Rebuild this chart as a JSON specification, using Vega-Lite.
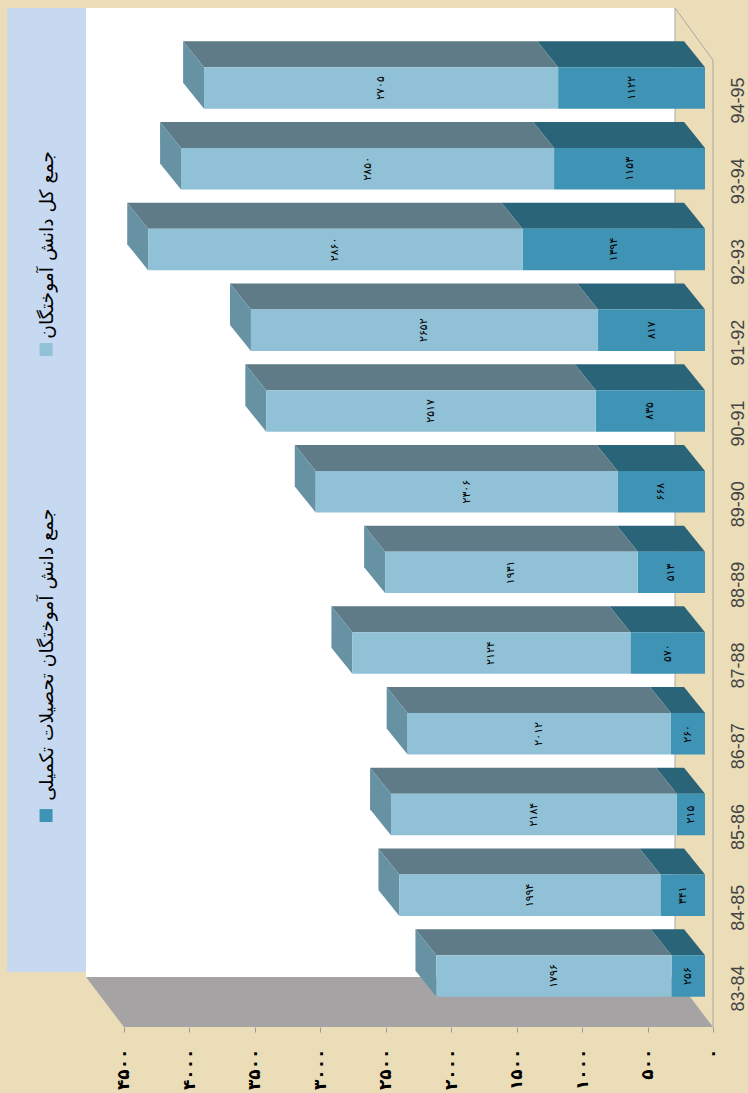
{
"$schema":"https://vega.github.io/schema/vega-lite/v6.json",
"width":748,"height":1093,"padding":0,"autosize":{"type":"none"},"background":"#ECDDB9",
"config":{"view":{"stroke":null},"scale":{"continuousPadding":0}},
"datasets":{"bars":[
{"year":"83-84","pos":0,"series":"جمع دانش آموختگان تحصیلات تکمیلی","value":256,"label":"۲۵۶"},
{"year":"83-84","pos":0,"series":"جمع کل دانش آموختگان","value":1796,"label":"۱۷۹۶"},
{"year":"84-85","pos":1,"series":"جمع دانش آموختگان تحصیلات تکمیلی","value":341,"label":"۳۴۱"},
{"year":"84-85","pos":1,"series":"جمع کل دانش آموختگان","value":1994,"label":"۱۹۹۴"},
{"year":"85-86","pos":2,"series":"جمع دانش آموختگان تحصیلات تکمیلی","value":215,"label":"۲۱۵"},
{"year":"85-86","pos":2,"series":"جمع کل دانش آموختگان","value":2184,"label":"۲۱۸۴"},
{"year":"86-87","pos":3,"series":"جمع دانش آموختگان تحصیلات تکمیلی","value":260,"label":"۲۶۰"},
{"year":"86-87","pos":3,"series":"جمع کل دانش آموختگان","value":2012,"label":"۲۰۱۲"},
{"year":"87-88","pos":4,"series":"جمع دانش آموختگان تحصیلات تکمیلی","value":570,"label":"۵۷۰"},
{"year":"87-88","pos":4,"series":"جمع کل دانش آموختگان","value":2124,"label":"۲۱۲۴"},
{"year":"88-89","pos":5,"series":"جمع دانش آموختگان تحصیلات تکمیلی","value":513,"label":"۵۱۳"},
{"year":"88-89","pos":5,"series":"جمع کل دانش آموختگان","value":1931,"label":"۱۹۳۱"},
{"year":"89-90","pos":6,"series":"جمع دانش آموختگان تحصیلات تکمیلی","value":668,"label":"۶۶۸"},
{"year":"89-90","pos":6,"series":"جمع کل دانش آموختگان","value":2306,"label":"۲۳۰۶"},
{"year":"90-91","pos":7,"series":"جمع دانش آموختگان تحصیلات تکمیلی","value":835,"label":"۸۳۵"},
{"year":"90-91","pos":7,"series":"جمع کل دانش آموختگان","value":2517,"label":"۲۵۱۷"},
{"year":"91-92","pos":8,"series":"جمع دانش آموختگان تحصیلات تکمیلی","value":817,"label":"۸۱۷"},
{"year":"91-92","pos":8,"series":"جمع کل دانش آموختگان","value":2652,"label":"۲۶۵۲"},
{"year":"92-93","pos":9,"series":"جمع دانش آموختگان تحصیلات تکمیلی","value":1394,"label":"۱۳۹۴"},
{"year":"92-93","pos":9,"series":"جمع کل دانش آموختگان","value":2860,"label":"۲۸۶۰"},
{"year":"93-94","pos":10,"series":"جمع دانش آموختگان تحصیلات تکمیلی","value":1153,"label":"۱۱۵۳"},
{"year":"93-94","pos":10,"series":"جمع کل دانش آموختگان","value":2850,"label":"۲۸۵۰"},
{"year":"94-95","pos":11,"series":"جمع دانش آموختگان تحصیلات تکمیلی","value":1122,"label":"۱۱۲۲"},
{"year":"94-95","pos":11,"series":"جمع کل دانش آموختگان","value":2705,"label":"۲۷۰۵"}
]},
"resolve":{"scale":{"color":"independent"},"axis":{"x":"independent","y":"independent"}},
"layer":[
{"data":{"values":[{}]},"mark":{"type":"rect","fill":"#C6D9F0"},"encoding":{
"x":{"datum":5393,"type":"quantitative","scale":{"domain":[-267.4,5446.9],"reverse":true,"nice":false,"zero":false},"axis":null},
"x2":{"datum":4790},
"y":{"datum":11.99,"type":"quantitative","scale":{"domain":[-1.449,12.09],"nice":false,"zero":false},"axis":null},
"y2":{"datum":0.05}}},
{"data":{"values":[{}]},"mark":{"type":"rect","fill":"#FFFFFF"},"encoding":{
"x":{"datum":4790,"type":"quantitative","scale":{"domain":[-267.4,5446.9],"reverse":true,"nice":false,"zero":false},"axis":null},
"x2":{"datum":290},
"y":{"datum":11.99,"type":"quantitative","scale":{"domain":[-1.449,12.09],"nice":false,"zero":false},"axis":null},
"y2":{"datum":-0.012}}},
{"data":{"values":[{"depth":0},{"depth":1}]},
"transform":[{"calculate":"-0.012-0.62*datum.depth","as":"p"},{"calculate":"4790-290*datum.depth","as":"a"},{"calculate":"290-290*datum.depth","as":"b"}],
"mark":{"type":"area","orient":"horizontal","fill":"#A5A3A3"},"encoding":{
"y":{"field":"p","type":"quantitative","scale":{"domain":[-1.449,12.09],"nice":false,"zero":false},"axis":null},
"x":{"field":"a","type":"quantitative","scale":{"domain":[-267.4,5446.9],"reverse":true,"nice":false,"zero":false},"axis":null,"stack":null},
"x2":{"field":"b"}}},
{"data":{"values":[{"x":290,"x2":0,"y":11.99,"y2":11.345},{"x":0,"x2":0,"y":11.345,"y2":-0.632},{"x":290,"x2":290,"y":11.99,"y2":-0.012}]},
"mark":{"type":"rule","stroke":"#A9A79F","strokeWidth":1},"encoding":{
"x":{"field":"x","type":"quantitative","scale":{"domain":[-267.4,5446.9],"reverse":true,"nice":false,"zero":false},"axis":null},
"x2":{"field":"x2"},
"y":{"field":"y","type":"quantitative","scale":{"domain":[-1.449,12.09],"nice":false,"zero":false},"axis":null},
"y2":{"field":"y2"}}},
{"data":{"name":"bars"},
"transform":[{"stack":"value","groupby":["year"],"sort":[{"field":"series","order":"ascending"}],"as":["x0","x1"]}],
"resolve":{"scale":{"color":"independent"},"axis":{"x":"independent","y":"independent"}},
"layer":[
{"transform":[{"calculate":"[0,1]","as":"depth"},{"flatten":["depth"]},
{"calculate":"datum.pos+0.257+0.322*datum.depth","as":"p"},
{"calculate":"datum.x0+61+160*datum.depth","as":"a"},
{"calculate":"datum.x1+61+160*datum.depth","as":"b"}],
"mark":{"type":"area","orient":"horizontal"},"encoding":{
"y":{"field":"p","type":"quantitative","scale":{"domain":[-1.449,12.09],"nice":false,"zero":false},"axis":null},
"x":{"field":"a","type":"quantitative","scale":{"domain":[-267.4,5446.9],"reverse":true,"nice":false,"zero":false},"axis":null,"stack":null},
"x2":{"field":"b"},
"detail":{"field":"year"},
"color":{"field":"series","type":"nominal","legend":null,"scale":{"domain":["جمع دانش آموختگان تحصیلات تکمیلی","جمع کل دانش آموختگان"],"range":["#2A6478","#5E7B87"]}}}},
{"transform":[{"filter":"datum.series==='جمع کل دانش آموختگان'"},{"calculate":"[0,1]","as":"depth"},{"flatten":["depth"]},
{"calculate":"datum.x1+61+160*datum.depth","as":"a"},
{"calculate":"datum.pos-0.257+0.322*datum.depth","as":"p0"},
{"calculate":"datum.pos+0.257+0.322*datum.depth","as":"p1"}],
"mark":{"type":"area","orient":"vertical","fill":"#6692A4"},"encoding":{
"x":{"field":"a","type":"quantitative","scale":{"domain":[-267.4,5446.9],"reverse":true,"nice":false,"zero":false},"axis":null},
"y":{"field":"p0","type":"quantitative","scale":{"domain":[-1.449,12.09],"nice":false,"zero":false},"axis":null,"stack":null},
"y2":{"field":"p1"},
"detail":{"field":"year"}}},
{"mark":{"type":"bar","size":41.5,"xOffset":-8,"x2Offset":-8,"orient":"horizontal"},"encoding":{
"x":{"field":"x0","type":"quantitative","scale":{"domain":[-267.4,5446.9],"reverse":true,"nice":false,"zero":false},
"axis":{"title":null,"orient":"bottom","offset":-66,"values":[0,500,1000,1500,2000,2500,3000,3500,4000,4500],"domain":false,"grid":false,"tickColor":"#999999","tickSize":5,"labelAngle":-90,"labelPadding":16,"labelFont":"DejaVu Sans","labelFontWeight":"bold","labelFontSize":17,"labelColor":"#000000","labelOverlap":false,"labelFlush":false,"labelExpr":"{'0':'۰','500':'۵۰۰','1000':'۱۰۰۰','1500':'۱۵۰۰','2000':'۲۰۰۰','2500':'۲۵۰۰','3000':'۳۰۰۰','3500':'۳۵۰۰','4000':'۴۰۰۰','4500':'۴۵۰۰'}[datum.value]"}},
"x2":{"field":"x1"},
"y":{"field":"pos","type":"quantitative","scale":{"domain":[-1.449,12.09],"nice":false,"zero":false},
"axis":{"title":null,"orient":"right","offset":-9.5,"values":[0,1,2,3,4,5,6,7,8,9,10,11],"domain":false,"grid":false,"ticks":false,"labelAngle":-90,"labelAlign":"center","labelBaseline":"middle","labelPadding":0,"labelOffset":12,"labelFont":"Liberation Sans","labelFontSize":18,"labelColor":"#444444","labelOverlap":false,"labelFlush":false,"labelExpr":"['83-84','84-85','85-86','86-87','87-88','88-89','89-90','90-91','91-92','92-93','93-94','94-95'][datum.value]"}},
"color":{"field":"series","type":"nominal","legend":null,"scale":{"domain":["جمع دانش آموختگان تحصیلات تکمیلی","جمع کل دانش آموختگان"],"range":["#3F93B5","#90C1D6"]}}}},
{"transform":[{"calculate":"(datum.x0+datum.x1)/2","as":"mid"}],"mark":{"type":"text","angle":-90,"xOffset":-8,"font":"DejaVu Sans","fontSize":11,"color":"#000000","align":"center","baseline":"middle"},"encoding":{
"x":{"field":"mid","type":"quantitative","scale":{"domain":[-267.4,5446.9],"reverse":true,"nice":false,"zero":false},"axis":null},
"y":{"field":"pos","type":"quantitative","scale":{"domain":[-1.449,12.09],"nice":false,"zero":false},"axis":null},
"text":{"field":"label"}}}
]},
{"data":{"values":[{"series":"جمع کل دانش آموختگان"}]},"layer":[
{"mark":{"type":"square","size":169,"fill":"#90C1D6","opacity":1},"encoding":{
"x":{"datum":5095,"type":"quantitative","scale":{"domain":[-267.4,5446.9],"reverse":true,"nice":false,"zero":false},"axis":null},
"y":{"datum":7.76,"type":"quantitative","scale":{"domain":[-1.449,12.09],"nice":false,"zero":false},"axis":null}}},
{"mark":{"type":"text","angle":-90,"font":"DejaVu Sans","fontSize":18.7,"color":"#000000","align":"center","baseline":"middle"},"encoding":{
"x":{"datum":5090,"type":"quantitative","scale":{"domain":[-267.4,5446.9],"reverse":true,"nice":false,"zero":false},"axis":null},
"y":{"datum":9.055,"type":"quantitative","scale":{"domain":[-1.449,12.09],"nice":false,"zero":false},"axis":null},
"text":{"field":"series"}}}
]},
{"data":{"values":[{"series":"جمع دانش آموختگان تحصیلات تکمیلی"}]},"layer":[
{"mark":{"type":"square","size":169,"fill":"#3F93B5","opacity":1},"encoding":{
"x":{"datum":5095,"type":"quantitative","scale":{"domain":[-267.4,5446.9],"reverse":true,"nice":false,"zero":false},"axis":null},
"y":{"datum":1.988,"type":"quantitative","scale":{"domain":[-1.449,12.09],"nice":false,"zero":false},"axis":null}}},
{"mark":{"type":"text","angle":-90,"font":"DejaVu Sans","fontSize":18.7,"color":"#000000","align":"center","baseline":"middle"},"encoding":{
"x":{"datum":5090,"type":"quantitative","scale":{"domain":[-267.4,5446.9],"reverse":true,"nice":false,"zero":false},"axis":null},
"y":{"datum":3.98,"type":"quantitative","scale":{"domain":[-1.449,12.09],"nice":false,"zero":false},"axis":null},
"text":{"field":"series"}}}
]}
]
}
